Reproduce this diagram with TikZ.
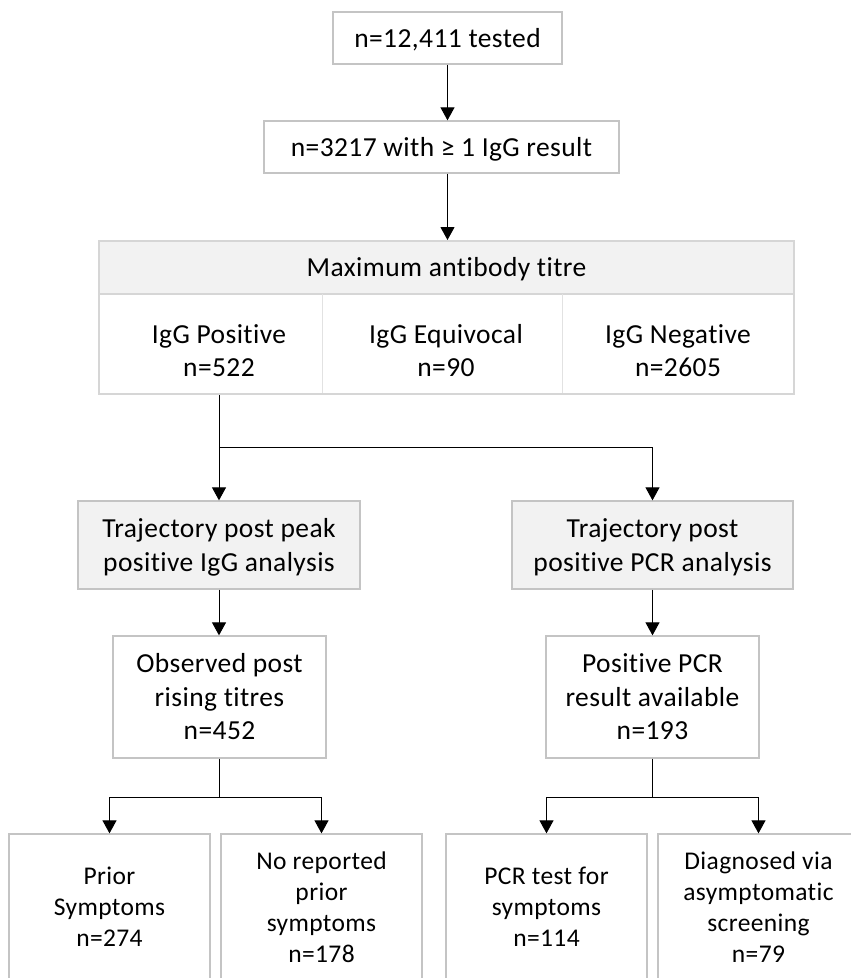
\documentclass[tikz,border=0pt]{standalone}
\usepackage{fontspec}
\setmainfont{Carlito}[Ligatures=NoCommon, LetterSpace=1.5]
\usetikzlibrary{arrows.meta}
\definecolor{boxgray}{HTML}{C4C4C4}
\definecolor{tblgray}{HTML}{D6D6D6}
\definecolor{divgray}{HTML}{E2E2E2}
\definecolor{hdrfill}{HTML}{F2F2F2}
\newcommand\ls{\rule[-0.22\baselineskip]{0pt}{\baselineskip}}
\newcommand\mainsize{\fontsize{27.5}{33.5}\selectfont}
\newcommand\smallsize{\fontsize{25.5}{31}\selectfont}
\tikzset{
  box/.style={draw=boxgray, line width=1.3pt, fill=white, inner sep=0pt, align=center, font=\mainsize},
  graybox/.style={box, fill=hdrfill},
  leafbox/.style={box, font=\smallsize},
  cell/.style={inner sep=0pt, align=center, font=\mainsize},
  arr/.style={line width=1pt, -{Triangle[width=14pt,length=13pt]}},
  conn/.style={line width=1pt}
}
\begin{document}
\begin{tikzpicture}[x=1pt,y=-1pt]
\useasboundingbox (0,0) rectangle (851,978);
\clip (0,0) rectangle (851,978);
\fill[white] (0,0) rectangle (851,978);

% top boxes
\node[box, minimum width=229pt, minimum height=52pt] (b1) at (447.5,38) {\ls n=12,411 tested};
\node[box, minimum width=355pt, minimum height=52pt] (b2) at (441.5,147) {\ls n=3217 with ≥ 1 IgG result};

% table
\node[draw=tblgray, line width=2pt, minimum width=695pt, minimum height=153pt, inner sep=0pt] (tbl) at (446.5,317.5) {};
\node[fill=hdrfill, draw=tblgray, line width=2pt, minimum width=695pt, minimum height=53pt, cell] (hdr) at (446.5,267.5) {\ls Maximum antibody titre};
\draw[divgray, line width=1pt] (322,294) -- (322,393);
\draw[divgray, line width=1pt] (562,294) -- (562,393);
\node[cell] (pos) at (219,350.4) {\ls IgG Positive\\\ls n=522};
\node[cell] (equ) at (446,350.4) {\ls IgG Equivocal\\\ls n=90};
\node[cell] (neg) at (678,350.4) {\ls IgG Negative\\\ls n=2605};

% trajectory boxes
\node[graybox, minimum width=282pt, minimum height=88pt] (t1) at (219,545) {\ls Trajectory post peak\\\ls positive IgG analysis};
\node[graybox, minimum width=281pt, minimum height=88pt] (t2) at (652.5,545) {\ls Trajectory post\\\ls positive PCR analysis};

% middle boxes
\node[box, minimum width=213pt, minimum height=122pt] (obs) at (219.5,697) {\ls Observed post\\\ls rising titres\\\ls n=452};
\node[box, minimum width=213pt, minimum height=122pt] (pcr) at (652.5,697) {\ls Positive PCR\\\ls result available\\\ls n=193};

% leaf boxes
\node[leafbox, minimum width=201pt, minimum height=146pt] (l1) at (109.5,907) {\ls Prior\\\ls Symptoms\\\ls n=274};
\node[leafbox, minimum width=201pt, minimum height=146pt] (l2) at (321.5,907) {\ls No reported\\\ls prior\\\ls symptoms\\\ls n=178};
\node[leafbox, minimum width=201pt, minimum height=146pt] (l3) at (546.5,907) {\ls PCR test for\\\ls symptoms\\\ls n=114};
\node[leafbox, minimum width=201pt, minimum height=146pt] (l4) at (758.5,907) {\ls Diagnosed via\\\ls asymptomatic\\\ls screening\\\ls n=79};

% connectors
\draw[arr] (b1.south) -- (b1.south |- b2.north);
\draw[arr] (b1.south |- b2.south) -- (b1.south |- tbl.north);
\coordinate (s1) at (219,447);
\draw[arr] (pos |- tbl.south) -- (t1.north);
\draw[arr] (s1) -| (t2.north);
\draw[arr] (t1.south) -- (t1.south |- obs.north);
\draw[arr] (t2.south) -- (t2.south |- pcr.north);
\coordinate (s2) at (219.5,797);
\coordinate (s3) at (652.5,797);
\draw[conn] (obs.south) -- (s2);
\draw[arr] (s2) -| (l1.north);
\draw[arr] (s2) -| (l2.north);
\draw[conn] (pcr.south) -- (s3);
\draw[arr] (s3) -| (l3.north);
\draw[arr] (s3) -| (l4.north);
\end{tikzpicture}
\end{document}
